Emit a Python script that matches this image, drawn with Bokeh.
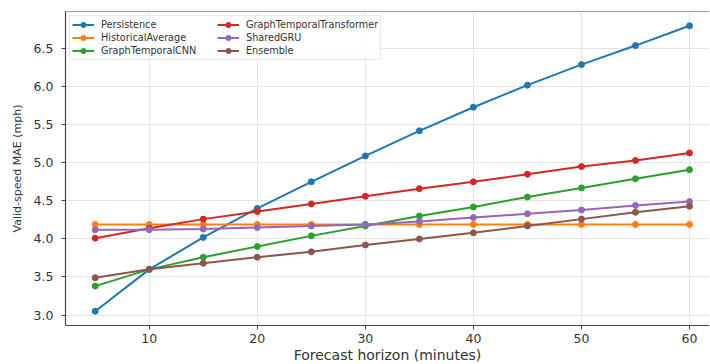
from bokeh.plotting import figure
from bokeh.models import Range1d, FixedTicker, Legend, LegendItem, Span, CustomJSTickFormatter
from bokeh.embed import file_html
from bokeh.resources import INLINE

horizons = [5, 10, 15, 20, 25, 30, 35, 40, 45, 50, 55, 60]
persistence = [3.05, 3.60, 4.02, 4.40, 4.75, 5.09, 5.42, 5.73, 6.02, 6.29, 6.54, 6.80]
historical_average = [4.19, 4.19, 4.19, 4.19, 4.19, 4.19, 4.19, 4.19, 4.19, 4.19, 4.19, 4.19]
graph_temporal_cnn = [3.38, 3.60, 3.76, 3.90, 4.04, 4.17, 4.30, 4.42, 4.55, 4.67, 4.79, 4.91]
graph_temporal_transformer = [4.01, 4.14, 4.26, 4.36, 4.46, 4.56, 4.66, 4.75, 4.85, 4.95, 5.03, 5.13]
shared_gru = [4.12, 4.12, 4.13, 4.15, 4.17, 4.19, 4.23, 4.28, 4.33, 4.38, 4.44, 4.49]
ensemble = [3.49, 3.60, 3.68, 3.76, 3.83, 3.92, 4.00, 4.08, 4.17, 4.26, 4.35, 4.43]

series_names = ["Persistence", "HistoricalAverage", "GraphTemporalCNN",
                "GraphTemporalTransformer", "SharedGRU", "Ensemble"]
series_values = [persistence, historical_average, graph_temporal_cnn,
                 graph_temporal_transformer, shared_gru, ensemble]
colors = ["#1f77b4", "#ff7f0e", "#2ca02c", "#d62728", "#9467bd", "#8c564b"]

x_ticks = [10, 20, 30, 40, 50, 60]
y_ticks = [3.0, 3.5, 4.0, 4.5, 5.0, 5.5, 6.0, 6.5]

X_START, X_END = 2.25, 61.85
Y_START, Y_END = 2.8625, 6.9875

FONT = "DejaVu Sans"
TXT = "#333333"
AX = "#444444"

p = figure(frame_width=644, frame_height=314,
           x_range=Range1d(X_START, X_END), y_range=Range1d(Y_START, Y_END),
           output_backend="svg", toolbar_location=None,
           min_border_left=65, min_border_right=0, min_border_top=11, min_border_bottom=0)
p.outline_line_color = None
p.background_fill_color = "white"
p.border_fill_color = "white"

top = Span(location=Y_END, dimension="width", line_color=AX, line_width=1.2)
p.add_layout(top)

for ax in (p.xaxis[0], p.yaxis[0]):
    ax.axis_line_color = AX
    ax.axis_line_width = 1.2
    ax.major_tick_line_color = AX
    ax.major_tick_out = 4
    ax.major_tick_in = 0
    ax.minor_tick_line_color = None
    ax.major_label_text_font = FONT
    ax.major_label_text_font_size = "12.5px"
    ax.major_label_text_color = TXT
    ax.axis_label_text_font = FONT
    ax.axis_label_text_font_style = "normal"
    ax.axis_label_text_color = TXT

p.xaxis.ticker = FixedTicker(ticks=x_ticks)
p.yaxis.ticker = FixedTicker(ticks=y_ticks)
p.yaxis.formatter = CustomJSTickFormatter(code="return tick.toFixed(1);")
p.xaxis.axis_label = "Forecast horizon (minutes)"
p.yaxis.axis_label = "Valid-speed MAE (mph)"
p.xaxis.axis_label_text_font_size = "14px"
p.yaxis.axis_label_text_font_size = "11px"
p.xaxis.major_label_standoff = 4
p.xaxis.axis_label_standoff = 1
p.yaxis.major_label_standoff = 8
p.yaxis.axis_label_standoff = 7

p.xgrid.ticker = FixedTicker(ticks=x_ticks)
p.ygrid.ticker = FixedTicker(ticks=y_ticks)
p.grid.grid_line_color = "#e4e4e4"
p.grid.grid_line_width = 1

items = []
for name, vals, c in zip(series_names, series_values, colors):
    r1 = p.line(horizons, vals, line_color=c, line_width=2)
    r2 = p.scatter(horizons, vals, size=6, fill_color=c, line_color=c)
    items.append(LegendItem(label=name, renderers=[r1, r2]))

legend = Legend(items=items, location="top_left", orientation="vertical", nrows=3)
legend.label_text_font = FONT
legend.label_text_font_size = "9.7px"
legend.label_text_color = TXT
legend.glyph_width = 22
legend.glyph_height = 13
legend.label_height = 13
legend.label_width = 116
legend.label_standoff = 7
legend.spacing = 0
legend.padding = 2
legend.margin = 4
legend.border_line_color = "#d0d0d0"
legend.border_line_width = 1
legend.background_fill_color = "white"
legend.background_fill_alpha = 0.85
p.add_layout(legend)

open("out.html", "w").write(file_html(p, INLINE))
